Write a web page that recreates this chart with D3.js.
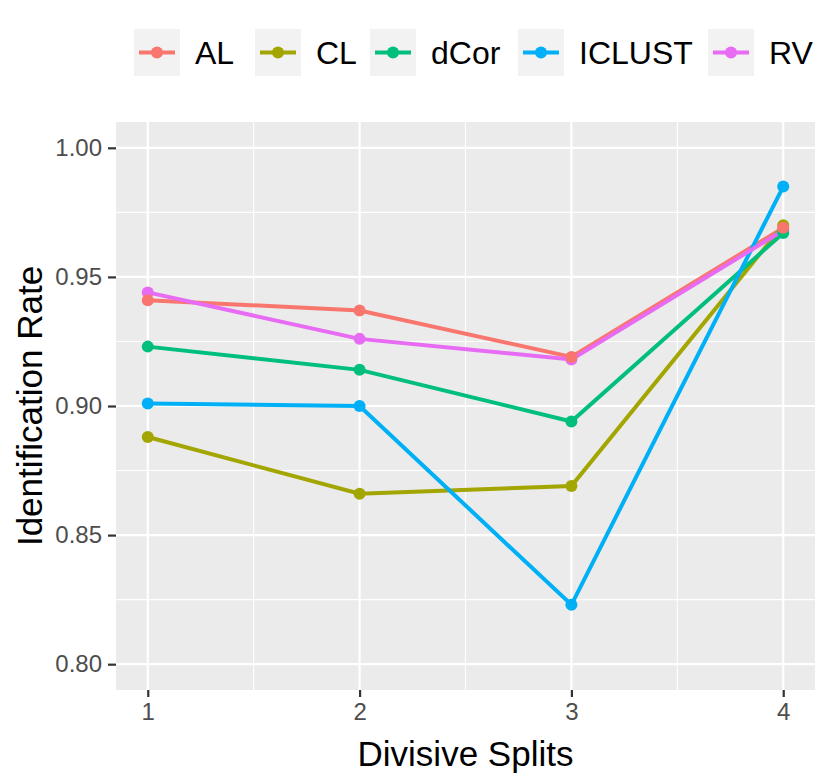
<!DOCTYPE html>
<html>
<head>
<meta charset="utf-8">
<script src="https://cdn.jsdelivr.net/npm/d3@7"></script>
<style>
  body { margin: 0; background: #fff; }
  text { font-family: "Liberation Sans", Arial, sans-serif; }
</style>
</head>
<body>
<script>
var splits = [1, 2, 3, 4];
var methods = ['AL', 'CL', 'dCor', 'ICLUST', 'RV'];
var alRate = [0.941, 0.937, 0.919, 0.969];
var clRate = [0.888, 0.866, 0.869, 0.970];
var dcorRate = [0.923, 0.914, 0.894, 0.967];
var iclustRate = [0.901, 0.900, 0.823, 0.985];
var rvRate = [0.944, 0.926, 0.918, 0.968];
var yTicks = [0.80, 0.85, 0.90, 0.95, 1.00];
var colours = ['#F8766D', '#A3A500', '#00BF7D', '#00B0F6', '#E76BF3'];

var series = [alRate, clRate, dcorRate, iclustRate, rvRate].map(function (vals, i) {
  return { name: methods[i], colour: colours[i], pts: vals.map(function (v, j) { return { x: splits[j], y: v }; }) };
});

var width = 830, height = 782;
var panel = { left: 116, right: 815, top: 122, bottom: 690 };

var x = d3.scaleLinear().domain([0.85, 4.15]).range([panel.left, panel.right]);
var y = d3.scaleLinear().domain([0.79, 1.01]).range([panel.bottom, panel.top]);

var svg = d3.select('body').append('svg')
  .attr('width', width).attr('height', height);

// panel background
svg.append('rect')
  .attr('x', panel.left).attr('y', panel.top)
  .attr('width', panel.right - panel.left).attr('height', panel.bottom - panel.top)
  .attr('fill', '#EBEBEB');

var grid = svg.append('g');
// minor grid
[1.5, 2.5, 3.5].forEach(function (v) {
  grid.append('line').attr('x1', x(v)).attr('x2', x(v)).attr('y1', panel.top).attr('y2', panel.bottom)
    .attr('stroke', '#fff').attr('stroke-width', 1.1);
});
[0.825, 0.875, 0.925, 0.975].forEach(function (v) {
  grid.append('line').attr('y1', y(v)).attr('y2', y(v)).attr('x1', panel.left).attr('x2', panel.right)
    .attr('stroke', '#fff').attr('stroke-width', 1.1);
});
// major grid
splits.forEach(function (v) {
  grid.append('line').attr('x1', x(v)).attr('x2', x(v)).attr('y1', panel.top).attr('y2', panel.bottom)
    .attr('stroke', '#fff').attr('stroke-width', 2.2);
});
yTicks.forEach(function (v) {
  grid.append('line').attr('y1', y(v)).attr('y2', y(v)).attr('x1', panel.left).attr('x2', panel.right)
    .attr('stroke', '#fff').attr('stroke-width', 2.2);
});

// axes
var xAxis = svg.append('g')
  .attr('transform', 'translate(0,' + panel.bottom + ')')
  .call(d3.axisBottom(x).tickValues(splits).tickFormat(d3.format('d')).tickSize(7).tickPadding(6));
var yAxis = svg.append('g')
  .attr('transform', 'translate(' + panel.left + ',0)')
  .call(d3.axisLeft(y).tickValues(yTicks).tickFormat(d3.format('.2f')).tickSize(8).tickPadding(6));
[xAxis, yAxis].forEach(function (a) {
  a.select('.domain').remove();
  a.selectAll('.tick line').attr('stroke', '#333').attr('stroke-width', 2.2);
  a.selectAll('.tick text').attr('fill', '#4D4D4D').style('font-size', '24px')
    .style('font-family', '"Liberation Sans", Arial, sans-serif');
});

// lines
var line = d3.line().x(function (d) { return x(d.x); }).y(function (d) { return y(d.y); });
svg.append('g').selectAll('path')
  .data(series).enter().append('path')
  .attr('d', function (d) { return line(d.pts); })
  .attr('fill', 'none')
  .attr('stroke', function (d) { return d.colour; })
  .attr('stroke-width', 4);

// points
var ptsG = svg.append('g');
series.slice().reverse().forEach(function (s) {
  ptsG.selectAll(null).data(s.pts).enter().append('circle')
    .attr('cx', function (d) { return x(d.x); })
    .attr('cy', function (d) { return y(d.y); })
    .attr('r', 6)
    .attr('fill', s.colour);
});

// axis titles
svg.append('text')
  .attr('x', (panel.left + panel.right) / 2).attr('y', 766)
  .attr('text-anchor', 'middle').style('font-size', '35px').attr('fill', '#000')
  .text('Divisive Splits');
svg.append('text')
  .attr('transform', 'translate(42,' + ((panel.top + panel.bottom) / 2) + ') rotate(-90)')
  .attr('text-anchor', 'middle').style('font-size', '35px').attr('fill', '#000')
  .text('Identification Rate');

// legend
var legendX = [134, 255, 370, 518, 708];
var legend = svg.append('g');
series.forEach(function (s, i) {
  var g = legend.append('g').attr('transform', 'translate(' + legendX[i] + ',29)');
  g.append('rect').attr('width', 46).attr('height', 47).attr('fill', '#F2F2F2');
  g.append('line').attr('x1', 5).attr('x2', 41).attr('y1', 23.5).attr('y2', 23.5)
    .attr('stroke', s.colour).attr('stroke-width', 4);
  g.append('circle').attr('cx', 23).attr('cy', 23.5).attr('r', 6).attr('fill', s.colour);
  g.append('text').attr('x', 61).attr('y', 35).style('font-size', '32px').attr('fill', '#000')
    .text(s.name);
});
</script>
</body>
</html>
